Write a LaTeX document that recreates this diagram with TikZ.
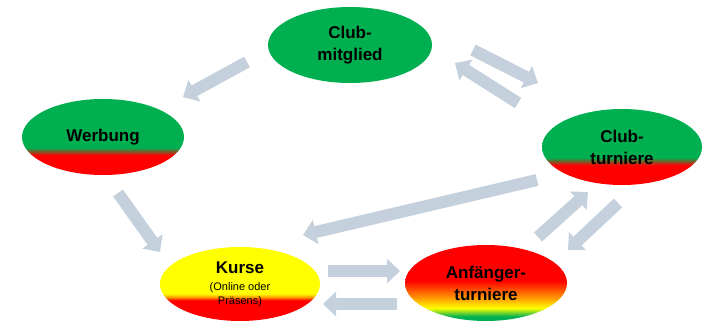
\documentclass[tikz,border=0pt]{standalone}
\usepackage{fontspec}
\setmainfont{Liberation Sans}
\usetikzlibrary{arrows.meta,shapes.geometric}
\definecolor{grn}{RGB}{0,176,80}
\definecolor{arr}{RGB}{196,209,220}
\definecolor{orng}{RGB}{255,150,0}
\definecolor{rd}{RGB}{255,0,0}
\definecolor{yl}{RGB}{255,255,0}
\pgfdeclareverticalshading{grnred}{100bp}{color(0bp)=(rd); color(38bp)=(rd); color(43bp)=(grn); color(100bp)=(grn)}
\pgfdeclareverticalshading{ylred}{100bp}{color(0bp)=(rd); color(39bp)=(rd); color(41bp)=(orng); color(43.5bp)=(yl); color(100bp)=(yl)}
\pgfdeclareverticalshading{redgrn}{100bp}{color(0bp)=(grn); color(28bp)=(grn); color(33.5bp)=(yl); color(40.5bp)=(orng); color(51.5bp)=(rd); color(100bp)=(rd)}
\tikzset{
  ell/.style={ellipse, draw=none, minimum width=162pt, minimum height=76pt, inner sep=0pt,
    align=center, font=\bfseries\fontsize{17}{22}\selectfont},
  blockarrow/.style={draw=arr, line width=12pt, -{Triangle[length=13pt,width=24pt]}, arr}
}
\begin{document}
\begin{tikzpicture}[x=1pt,y=-1pt]
\useasboundingbox (0,0) rectangle (716,321);
% nodes
\node[ell, fill=grn, minimum width=164pt] (cm) at (350,45) {Club-\\mitglied};
\node[ell, shading=grnred] (wb) at (103,137) {Werbung};
\node[ell, shading=grnred, minimum width=160pt] (ct) at (622,147) {Club-\\turniere};
\node[ell, shading=ylred, minimum width=160pt, minimum height=74pt] (ku) at (240,284) {};
\node[font=\bfseries\fontsize{17}{21}\selectfont, inner sep=0pt] (kut) at (240,268) {Kurse};
\node[font=\fontsize{11}{13.5}\selectfont, align=center, inner sep=0pt] (kus) at (240,294.5) {(Online oder\\Präsens)};
\node[ell, shading=redgrn] (an) at (486,283) {Anfänger-\\turniere};
% arrow end points
\coordinate (a1s) at (247,62);  \coordinate (a1e) at (183,97);
\coordinate (a2s) at (473,50);  \coordinate (a2e) at (538,83);
\coordinate (a3s) at (518,103); \coordinate (a3e) at (455,63);
\coordinate (a4s) at (118,193); \coordinate (a4e) at (160,252);
\coordinate (a5s) at (537,180); \coordinate (a5e) at (303,235);
\coordinate (a6s) at (328,271); \coordinate (a6e) at (400,271);
\coordinate (a7s) at (397,304); \coordinate (a7e) at (323,304);
\coordinate (a8s) at (538,237); \coordinate (a8e) at (588,192);
\coordinate (a9s) at (618,203); \coordinate (a9e) at (568,250);
% arrows
\foreach \i in {1,...,9} {\draw[blockarrow] (a\i s) -- (a\i e);}
\end{tikzpicture}
\end{document}
